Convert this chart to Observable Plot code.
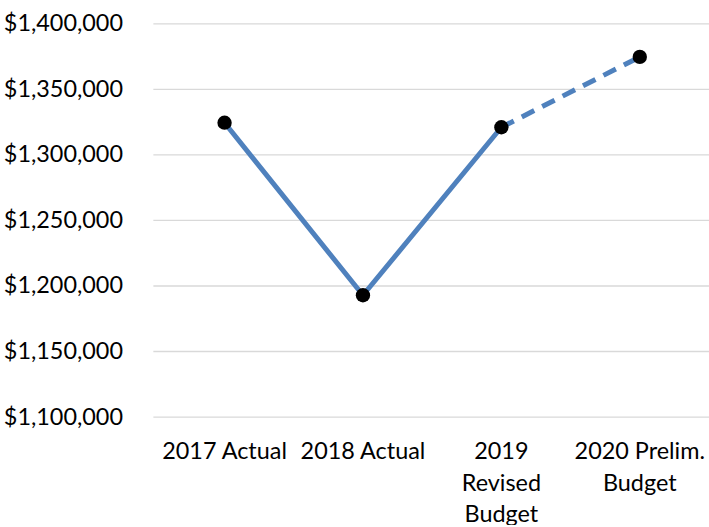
<!DOCTYPE html>
<html>
<head>
<meta charset="utf-8">
<script src="https://cdn.jsdelivr.net/npm/d3@7"></script>
<script src="https://cdn.jsdelivr.net/npm/@observablehq/plot@0.6"></script>
<style>
  html, body { margin: 0; padding: 0; background: #fff; overflow: hidden; }
  #chart svg { display: block; font-family: Lato, "Open Sans", sans-serif; }
</style>
</head>
<body>
<div id="chart"></div>
<script>
// Budget by year: actuals, revised budget and preliminary budget
const categories = ["2017 Actual", "2018 Actual", "2019 Revised Budget", "2020 Prelim. Budget"];
const tickLabels = ["2017 Actual", "2018 Actual", "2019\nRevised\nBudget", "2020 Prelim.\nBudget"];
const values = [1324600, 1192900, 1321100, 1374800];
// solid segment through the revised budget, dashed toward the preliminary budget
const solidSpan = [0, 1, 2];
const dashedSpan = [2, 3];
const yTicks = [1100000, 1150000, 1200000, 1250000, 1300000, 1350000, 1400000];

const rows = categories.map((c, i) => ({category: c, value: values[i], label: tickLabels[i]}));
const solidRows = solidSpan.map(i => rows[i]);
const dashedRows = dashedSpan.map(i => rows[i]);
const labelOf = new Map(rows.map(r => [r.category, r.label]));

const lineColor = "#4f81bd";
const money = d => "$" + d3.format(",")(d);

const chart = Plot.plot({
  width: 712,
  height: 527,
  marginLeft: 154,
  marginRight: 0,
  marginTop: 23.5,
  marginBottom: 108.7,
  style: {fontFamily: "Lato, 'Open Sans', sans-serif", fontSize: "23.5px", color: "#000", background: "#fff"},
  x: {type: "point", domain: categories, padding: 0.5},
  y: {domain: [1100000, 1400000]},
  marks: [
    Plot.gridY(yTicks, {stroke: "#d9d9d9", strokeOpacity: 1, strokeWidth: 1.3}),
    Plot.axisY(yTicks, {
      tickSize: 0, tickPadding: 31, tickFormat: money, label: null,
      fontSize: 23.5, fill: "#000"
    }),
    Plot.axisX({
      tickSize: 0, tickPadding: 20, label: null,
      tickFormat: d => labelOf.get(d), lineHeight: 1.34,
      fontSize: 23.5, fill: "#000"
    }),
    Plot.line(solidRows, {x: "category", y: "value", stroke: lineColor, strokeWidth: 5}),
    Plot.line(dashedRows, {
      x: "category", y: "value", stroke: lineColor, strokeWidth: 5,
      strokeDasharray: "14,9", strokeLinecap: "butt"
    }),
    Plot.dot(rows, {x: "category", y: "value", r: 7.2, fill: "#000", stroke: "none"})
  ]
});

document.getElementById("chart").append(chart);
</script>
</body>
</html>
